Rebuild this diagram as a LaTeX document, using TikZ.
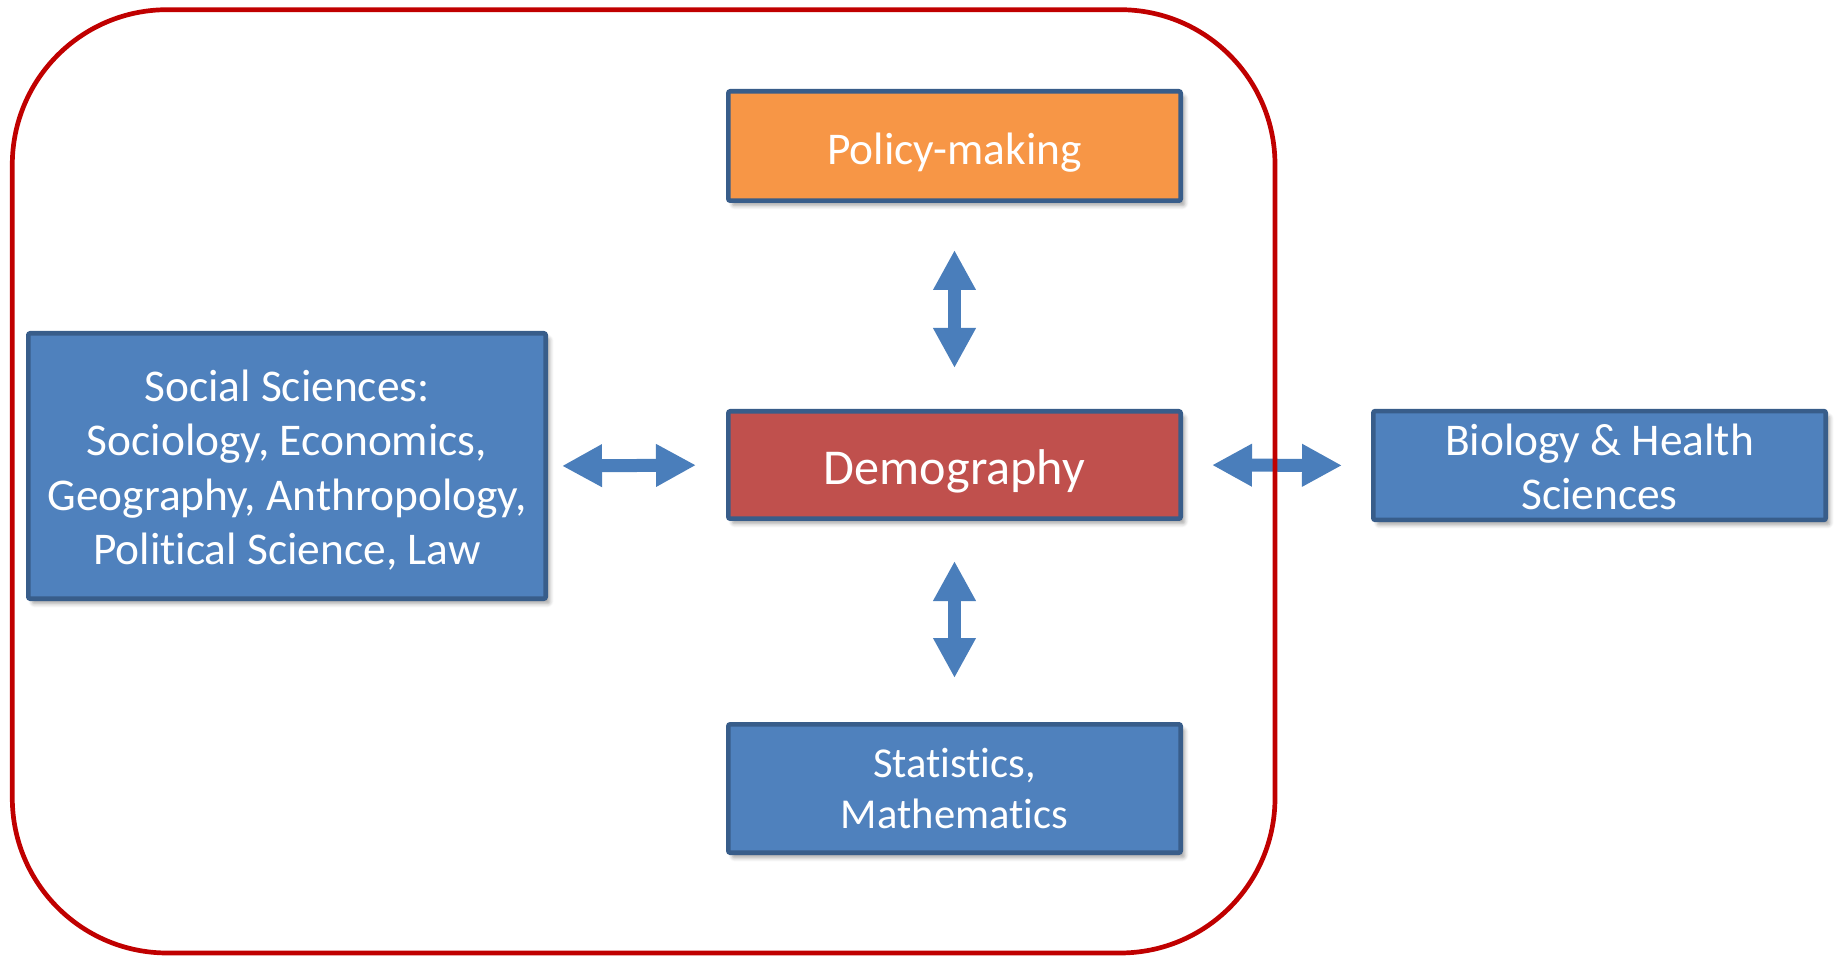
\documentclass[tikz,border=0pt]{standalone}
\usepackage{fontspec}
\setmainfont{Carlito}[Ligatures=NoCommon]
\usetikzlibrary{arrows.meta,shadows.blur}
\definecolor{boxblue}{HTML}{4F81BD}
\definecolor{boxline}{HTML}{385D8A}
\definecolor{boxorange}{HTML}{F79646}
\definecolor{boxred}{HTML}{C0504D}
\definecolor{arrowblue}{HTML}{4A7EBB}
\definecolor{frame}{HTML}{C00000}
\newcommand\boxtext[2]{\raisebox{#1}[\height][\depth]{\begin{tabular}{@{}c@{}}#2\end{tabular}}}
\tikzset{
  discbox/.style={draw=boxline, line width=2.3pt, fill=boxblue, text=white,
    inner sep=0pt, align=center, rounded corners=1pt,
    blur shadow={shadow xshift=2pt, shadow yshift=-2.5pt, shadow blur steps=6, shadow opacity=35},
    font=\fontsize{22.7}{27.2}\selectfont},
  link/.style={draw=arrowblue, line width=6.5pt,
    {Triangle[width=20pt,length=20pt]}-{Triangle[width=20pt,length=20pt]}},
  outline/.style={draw=frame, line width=2.35pt, rounded corners=77.5pt}
}
\begin{document}
\begin{tikzpicture}[x=0.5pt,y=-0.5pt]
\useasboundingbox (0,0) rectangle (1841,956);
\node[discbox, fill=boxorange, minimum width=226.2pt, minimum height=54.7pt] (p) at (954.5,146)
  {\boxtext{-3.6pt}{Policy-making}};
\node[discbox, fill=boxred, minimum width=226.2pt, minimum height=53.7pt,
  font=\fontsize{25.1}{30}\selectfont] (d) at (954.5,465) {\boxtext{-3.7pt}{Demography}};
\node[discbox, minimum width=226.2pt, minimum height=64.2pt,
  font=\fontsize{21.3}{25.3}\selectfont] (s) at (954.5,788.5)
  {\boxtext{-2.1pt}{Statistics,\\Mathematics}};
\node[discbox, minimum width=258.7pt, minimum height=132.7pt] (ss) at (287,466)
  {\boxtext{-3pt}{Social Sciences:\\Sociology, Economics,\\Geography, Anthropology,\\Political Science, Law}};
\node[discbox, minimum width=226.2pt, minimum height=53.2pt] (b) at (1599.5,465.5)
  {\boxtext{-3pt}{Biology \& Health\\Sciences}};
\draw[link, shorten <=23.5pt, shorten >=20.5pt] (p.south) -- (d.north);
\draw[link, shorten <=20pt, shorten >=22pt] (d.south) -- (s.north);
\draw[link, shorten <=7pt, shorten >=15pt] (ss.east) -- (d.west);
\draw[link, shorten <=14.5pt, shorten >=14.5pt] (d.east) -- (b.west);
\draw[outline] (12.3,9.7) rectangle (1275,953);
\end{tikzpicture}
\end{document}
